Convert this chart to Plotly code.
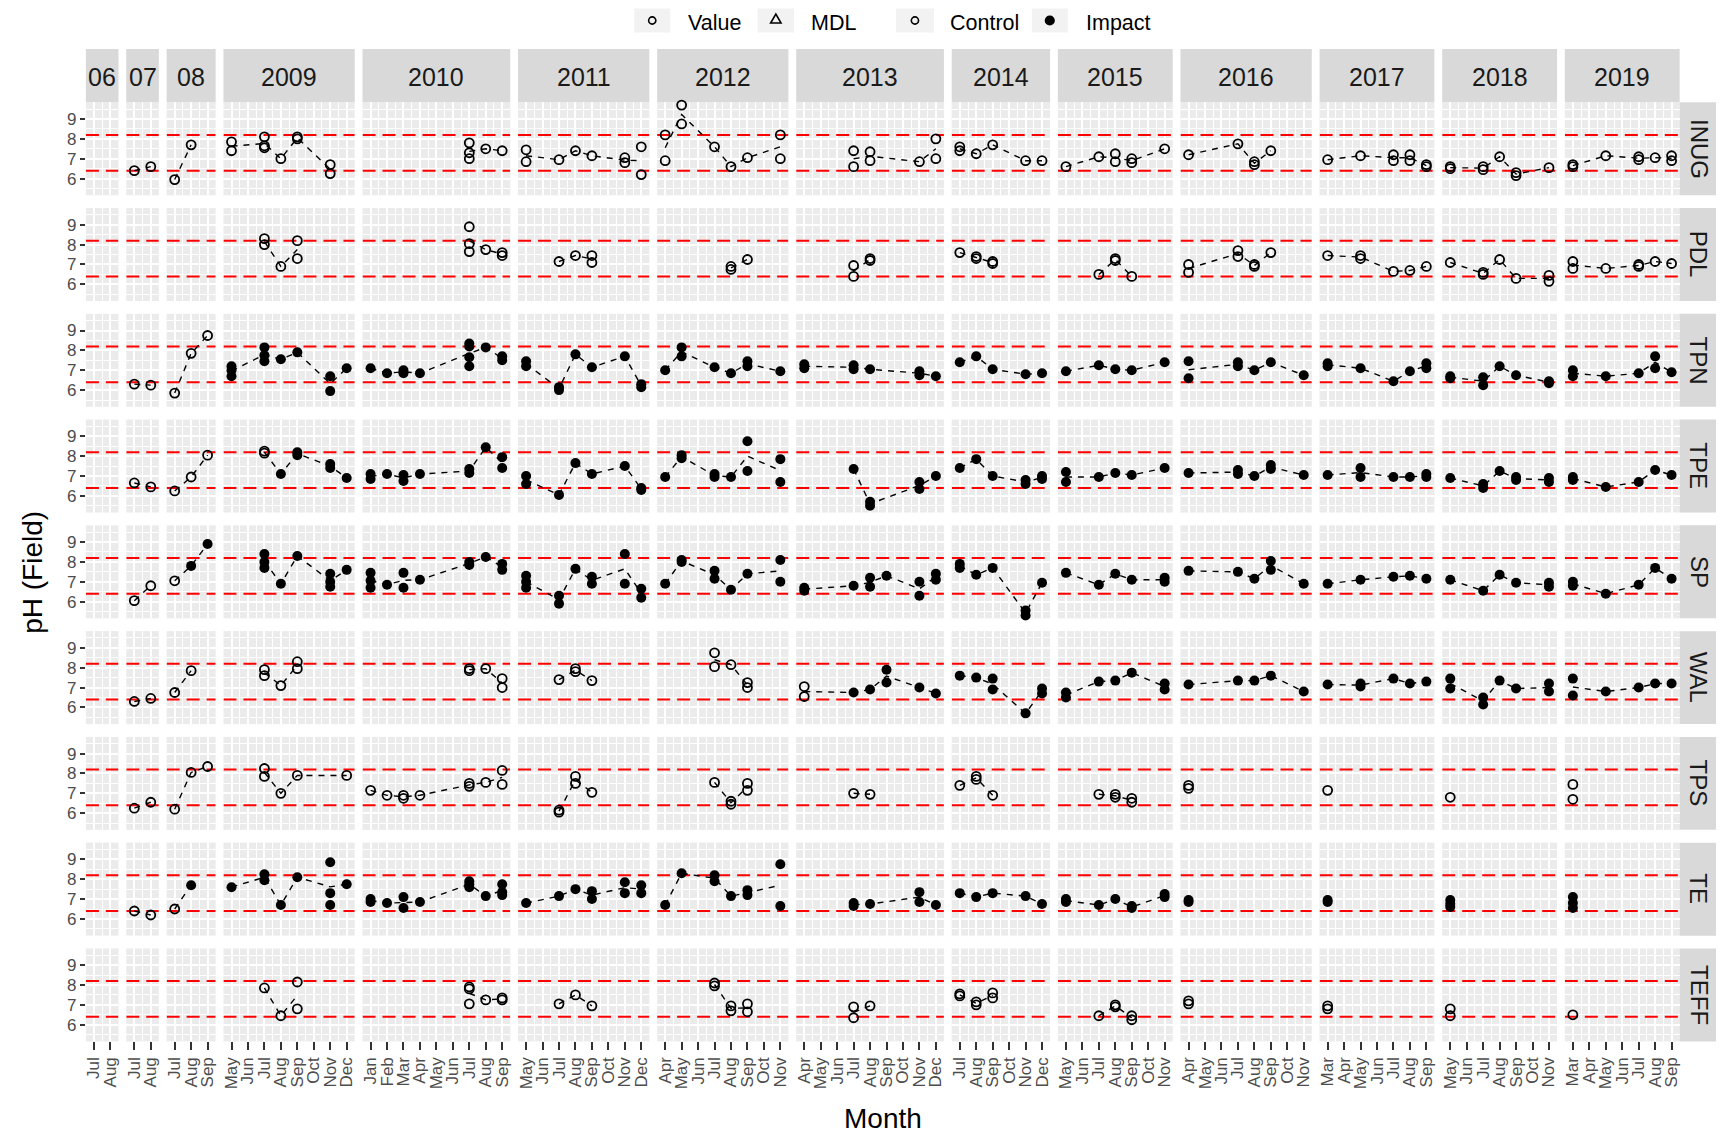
import plotly.graph_objects as go

# ---------------------------------------------------------------------------
# Facet structure: one column per sampling season, one row per station
# ---------------------------------------------------------------------------
STRIP_LABELS = ["06", "07", "08", "2009", "2010", "2011", "2012", "2013",
                "2014", "2015", "2016", "2017", "2018", "2019"]
PANEL_YEARS = [2006, 2007, 2008, 2009, 2010, 2011, 2012, 2013,
               2014, 2015, 2016, 2017, 2018, 2019]
FIRST_MONTH = [7, 7, 7, 5, 1, 5, 4, 4, 7, 5, 4, 3, 5, 3]
LAST_MONTH = [8, 8, 9, 12, 9, 12, 11, 12, 12, 11, 11, 9, 11, 9]
MONTH_ABBR = ["Jan", "Feb", "Mar", "Apr", "May", "Jun",
              "Jul", "Aug", "Sep", "Oct", "Nov", "Dec"]

SITES = ["INUG", "PDL", "TPN", "TPE", "SP", "WAL", "TPS", "TE", "TEFF"]
# first sampling month at which a station is classed as "Impact" ("" = always Control)
IMPACT_FROM = ["", "", "2009-05", "2009-08", "2008-08", "2013-07", "", "2008-08", ""]

PH_LOWER, PH_UPPER = 6.4, 8.2
Y_RANGE = [5.16, 9.84]
LEGEND_LABELS = ["Value", "MDL", "Control", "Impact"]

# field pH readings: (sampling month, [replicate values])
INUG = [
    ("2007-07", [6.4]), ("2007-08", [6.6]),
    ("2008-07", [5.95]), ("2008-08", [7.7]),
    ("2009-05", [7.85, 7.4]), ("2009-07", [8.1, 7.65, 7.55]), ("2009-08", [7.0]),
    ("2009-09", [8.1, 8.0]), ("2009-11", [6.7, 6.25]),
    ("2010-07", [7.8, 7.3, 7.0]), ("2010-08", [7.5]), ("2010-09", [7.4]),
    ("2011-05", [7.45, 6.85]), ("2011-07", [6.95]), ("2011-08", [7.4]), ("2011-09", [7.15]),
    ("2011-11", [7.05, 6.8]), ("2011-12", [7.6, 6.2]),
    ("2012-04", [8.2, 6.9]), ("2012-05", [9.7, 8.75]), ("2012-07", [7.6]), ("2012-08", [6.6]),
    ("2012-09", [7.05]), ("2012-11", [8.2, 7.0]),
    ("2013-07", [7.4, 6.6]), ("2013-08", [7.35, 6.9]), ("2013-11", [6.85]), ("2013-12", [8.0, 7.0]),
    ("2014-07", [7.6, 7.4]), ("2014-08", [7.25]), ("2014-09", [7.7]), ("2014-11", [6.9]), ("2014-12", [6.9]),
    ("2015-05", [6.6]), ("2015-07", [7.1]), ("2015-08", [7.25, 6.85]), ("2015-09", [7.0, 6.8]), ("2015-11", [7.5]),
    ("2016-04", [7.2]), ("2016-07", [7.75]), ("2016-08", [6.85, 6.7]), ("2016-09", [7.4]),
    ("2017-03", [6.95]), ("2017-05", [7.15]), ("2017-07", [7.2, 6.9]), ("2017-08", [7.2, 6.9]), ("2017-09", [6.7, 6.6]),
    ("2018-05", [6.6, 6.5]), ("2018-07", [6.6, 6.45]), ("2018-08", [7.1]), ("2018-09", [6.3, 6.15]), ("2018-11", [6.55]),
    ("2019-03", [6.7, 6.6]), ("2019-05", [7.15]), ("2019-07", [7.1, 6.95]), ("2019-08", [7.05]), ("2019-09", [7.15, 6.9]),
]
PDL = [
    ("2009-07", [8.3, 8.0]), ("2009-08", [6.9]), ("2009-09", [8.2, 7.3]),
    ("2010-07", [8.9, 8.05, 7.65]), ("2010-08", [7.75]), ("2010-09", [7.6, 7.45]),
    ("2011-07", [7.15]), ("2011-08", [7.45]), ("2011-09", [7.45, 7.1]),
    ("2012-08", [6.9, 6.75]), ("2012-09", [7.25]),
    ("2013-07", [6.95, 6.4]), ("2013-08", [7.3, 7.2]),
    ("2014-07", [7.6]), ("2014-08", [7.4, 7.3]), ("2014-09", [7.15, 7.05]),
    ("2015-07", [6.5]), ("2015-08", [7.3, 7.2]), ("2015-09", [6.4]),
    ("2016-04", [7.0, 6.6]), ("2016-07", [7.7, 7.4]), ("2016-08", [7.0, 6.9]), ("2016-09", [7.6]),
    ("2017-03", [7.45]), ("2017-05", [7.45, 7.3]), ("2017-07", [6.65]), ("2017-08", [6.7]), ("2017-09", [6.9]),
    ("2018-05", [7.1]), ("2018-07", [6.6, 6.5]), ("2018-08", [7.25]), ("2018-09", [6.3]), ("2018-11", [6.45, 6.15]),
    ("2019-03", [7.15, 6.8]), ("2019-05", [6.8]), ("2019-07", [7.0, 6.9]), ("2019-08", [7.15]), ("2019-09", [7.05]),
]
TPN = [
    ("2007-07", [6.3]), ("2007-08", [6.25]),
    ("2008-07", [5.85]), ("2008-08", [7.85]), ("2008-09", [8.75]),
    ("2009-05", [7.2, 7.0, 6.7]), ("2009-07", [8.15, 7.75, 7.45]), ("2009-08", [7.55]), ("2009-09", [7.9]),
    ("2009-11", [6.7, 5.95]), ("2009-12", [7.1]),
    ("2010-01", [7.1]), ("2010-02", [6.85]), ("2010-03", [7.0, 6.85]), ("2010-04", [6.85]),
    ("2010-07", [8.35, 8.2, 7.65, 7.2]), ("2010-08", [8.15]), ("2010-09", [7.7, 7.5]),
    ("2011-05", [7.45, 7.2]), ("2011-07", [6.15, 6.0]), ("2011-08", [7.8]), ("2011-09", [7.15]),
    ("2011-11", [7.7]), ("2011-12", [6.3, 6.15]),
    ("2012-04", [7.0]), ("2012-05", [8.15, 7.7]), ("2012-07", [7.15]), ("2012-08", [6.85]),
    ("2012-09", [7.45, 7.2]), ("2012-11", [6.95]),
    ("2013-04", [7.3, 7.1]), ("2013-07", [7.25, 7.05]), ("2013-08", [7.05]), ("2013-11", [6.95, 6.75]), ("2013-12", [6.7]),
    ("2014-07", [7.4]), ("2014-08", [7.7]), ("2014-09", [7.05]), ("2014-11", [6.8]), ("2014-12", [6.85]),
    ("2015-05", [6.95]), ("2015-07", [7.25]), ("2015-08", [7.05]), ("2015-09", [7.0]), ("2015-11", [7.4]),
    ("2016-04", [7.45, 6.6]), ("2016-07", [7.4, 7.2]), ("2016-08", [7.0]), ("2016-09", [7.4]), ("2016-11", [6.75]),
    ("2017-03", [7.35, 7.2]), ("2017-05", [7.1]), ("2017-07", [6.45]), ("2017-08", [6.95]), ("2017-09", [7.35, 7.1]),
    ("2018-05", [6.7, 6.6]), ("2018-07", [6.65, 6.25]), ("2018-08", [7.2]), ("2018-09", [6.75]), ("2018-11", [6.45, 6.35]),
    ("2019-03", [7.0, 6.7]), ("2019-05", [6.7]), ("2019-07", [6.85]), ("2019-08", [7.7, 7.1]), ("2019-09", [6.9]),
]
TPE = [
    ("2007-07", [6.65]), ("2007-08", [6.45]),
    ("2008-07", [6.25]), ("2008-08", [6.95]), ("2008-09", [8.05]),
    ("2009-07", [8.25, 8.15]), ("2009-08", [7.1]), ("2009-09", [8.2, 8.05]), ("2009-11", [7.6, 7.4]), ("2009-12", [6.9]),
    ("2010-01", [7.1, 6.85]), ("2010-02", [7.1]), ("2010-03", [7.05, 6.75]), ("2010-04", [7.1]),
    ("2010-07", [7.35, 7.15]), ("2010-08", [8.45]), ("2010-09", [7.95, 7.4]),
    ("2011-05", [7.0, 6.6]), ("2011-07", [6.05]), ("2011-08", [7.65]), ("2011-09", [7.1]),
    ("2011-11", [7.5]), ("2011-12", [6.4, 6.3]),
    ("2012-04", [6.95]), ("2012-05", [8.05, 7.9]), ("2012-07", [7.1, 6.95]), ("2012-08", [6.95]),
    ("2012-09", [8.75, 7.25]), ("2012-11", [7.85, 6.7]),
    ("2013-07", [7.35]), ("2013-08", [5.7, 5.5]), ("2013-11", [6.7, 6.35]), ("2013-12", [7.0]),
    ("2014-07", [7.4]), ("2014-08", [7.85]), ("2014-09", [7.0]), ("2014-11", [6.8, 6.6]), ("2014-12", [7.0, 6.85]),
    ("2015-05", [7.2, 6.7]), ("2015-07", [6.95]), ("2015-08", [7.15]), ("2015-09", [7.05]), ("2015-11", [7.4]),
    ("2016-04", [7.15]), ("2016-07", [7.3, 7.1]), ("2016-08", [7.0]), ("2016-09", [7.55, 7.35]), ("2016-11", [7.05]),
    ("2017-03", [7.05]), ("2017-05", [7.4, 6.95]), ("2017-07", [6.95]), ("2017-08", [6.95]), ("2017-09", [7.1, 6.95]),
    ("2018-05", [6.9]), ("2018-07", [6.6, 6.4]), ("2018-08", [7.25]), ("2018-09", [6.95, 6.8]), ("2018-11", [6.9, 6.7]),
    ("2019-03", [6.95, 6.8]), ("2019-05", [6.45]), ("2019-07", [6.7]), ("2019-08", [7.3]), ("2019-09", [7.05]),
]
SP = [
    ("2007-07", [6.05]), ("2007-08", [6.8]),
    ("2008-07", [7.05]), ("2008-08", [7.8]), ("2008-09", [8.9]),
    ("2009-07", [8.4, 8.0, 7.7]), ("2009-08", [6.9]), ("2009-09", [8.3]), ("2009-11", [7.4, 7.0, 6.75]), ("2009-12", [7.6]),
    ("2010-01", [7.45, 7.05, 6.7]), ("2010-02", [6.85]), ("2010-03", [7.45, 6.7]), ("2010-04", [7.1]),
    ("2010-07", [8.0, 7.85]), ("2010-08", [8.25]), ("2010-09", [7.9, 7.6]),
    ("2011-05", [7.3, 7.0, 6.7]), ("2011-07", [6.3, 5.9]), ("2011-08", [7.65]), ("2011-09", [7.25, 6.9]),
    ("2011-11", [8.4, 6.9]), ("2011-12", [6.65, 6.2]),
    ("2012-04", [6.9]), ("2012-05", [8.1, 8.0]), ("2012-07", [7.55, 7.15]), ("2012-08", [6.6]),
    ("2012-09", [7.4]), ("2012-11", [8.1, 7.0]),
    ("2013-04", [6.7, 6.55]), ("2013-07", [6.8]), ("2013-08", [7.2, 6.75]), ("2013-09", [7.3]),
    ("2013-11", [7.0, 6.3]), ("2013-12", [7.4, 7.1]),
    ("2014-07", [7.9, 7.7]), ("2014-08", [7.35]), ("2014-09", [7.7]), ("2014-11", [5.55, 5.3]), ("2014-12", [6.95]),
    ("2015-05", [7.45]), ("2015-07", [6.85]), ("2015-08", [7.4]), ("2015-09", [7.1]), ("2015-11", [7.2, 7.0]),
    ("2016-04", [7.55]), ("2016-07", [7.5]), ("2016-08", [7.15]), ("2016-09", [8.05, 7.6]), ("2016-11", [6.9]),
    ("2017-03", [6.9]), ("2017-05", [7.1]), ("2017-07", [7.25]), ("2017-08", [7.3]), ("2017-09", [7.15]),
    ("2018-05", [7.1]), ("2018-07", [6.55]), ("2018-08", [7.35]), ("2018-09", [6.95]), ("2018-11", [6.95, 6.75]),
    ("2019-03", [7.0, 6.8]), ("2019-05", [6.4]), ("2019-07", [6.85]), ("2019-08", [7.7]), ("2019-09", [7.15]),
]
WAL = [
    ("2007-07", [6.3]), ("2007-08", [6.45]),
    ("2008-07", [6.75]), ("2008-08", [7.85]),
    ("2009-07", [7.9, 7.6]), ("2009-08", [7.1]), ("2009-09", [8.3, 7.95]),
    ("2010-07", [7.95, 7.85]), ("2010-08", [7.95]), ("2010-09", [7.45, 7.0]),
    ("2011-07", [7.4]), ("2011-08", [7.95, 7.8]), ("2011-09", [7.35]),
    ("2012-07", [8.75, 8.05]), ("2012-08", [8.15]), ("2012-09", [7.25, 7.0]),
    ("2013-04", [7.05, 6.55]), ("2013-07", [6.75]), ("2013-08", [6.9]), ("2013-09", [7.9, 7.25]),
    ("2013-11", [7.0]), ("2013-12", [6.7]),
    ("2014-07", [7.6]), ("2014-08", [7.5]), ("2014-09", [7.45, 6.9]), ("2014-11", [5.7]), ("2014-12", [6.95, 6.7]),
    ("2015-05", [6.75, 6.5]), ("2015-07", [7.3]), ("2015-08", [7.35]), ("2015-09", [7.75]), ("2015-11", [7.2, 6.9]),
    ("2016-04", [7.15]), ("2016-07", [7.35]), ("2016-08", [7.35]), ("2016-09", [7.6]), ("2016-11", [6.8]),
    ("2017-03", [7.15]), ("2017-05", [7.2, 7.05]), ("2017-07", [7.45]), ("2017-08", [7.2]), ("2017-09", [7.3]),
    ("2018-05", [7.45, 6.95]), ("2018-07", [6.5, 6.15]), ("2018-08", [7.35]), ("2018-09", [6.95]), ("2018-11", [7.2, 6.8]),
    ("2019-03", [7.45, 6.6]), ("2019-05", [6.8]), ("2019-07", [7.0]), ("2019-08", [7.2]), ("2019-09", [7.2]),
]
TPS = [
    ("2007-07", [6.25]), ("2007-08", [6.55]),
    ("2008-07", [6.2]), ("2008-08", [8.05]), ("2008-09", [8.35]),
    ("2009-07", [8.25, 7.85]), ("2009-08", [7.0]), ("2009-09", [7.9]), ("2009-12", [7.9]),
    ("2010-01", [7.15]), ("2010-02", [6.9]), ("2010-03", [6.9, 6.75]), ("2010-04", [6.9]),
    ("2010-07", [7.5, 7.35]), ("2010-08", [7.55]), ("2010-09", [8.15, 7.45]),
    ("2011-07", [6.15, 6.05]), ("2011-08", [7.85, 7.5]), ("2011-09", [7.05]),
    ("2012-07", [7.55]), ("2012-08", [6.6, 6.45]), ("2012-09", [7.5, 7.15]),
    ("2013-07", [7.0]), ("2013-08", [6.95]),
    ("2014-07", [7.4]), ("2014-08", [7.85, 7.7]), ("2014-09", [6.9]),
    ("2015-07", [6.95]), ("2015-08", [6.95, 6.8]), ("2015-09", [6.75, 6.55]),
    ("2016-04", [7.4, 7.25]),
    ("2017-03", [7.15]),
    ("2018-05", [6.8]),
    ("2019-03", [7.45, 6.7]),
]
TE = [
    ("2007-07", [6.4]), ("2007-08", [6.2]),
    ("2008-07", [6.5]), ("2008-08", [7.7]),
    ("2009-05", [7.6]), ("2009-07", [8.25, 7.95]), ("2009-08", [6.7]), ("2009-09", [8.1]),
    ("2009-11", [8.85, 7.3, 6.7]), ("2009-12", [7.75]),
    ("2010-01", [7.0, 6.85]), ("2010-02", [6.8]), ("2010-03", [7.1, 6.55]), ("2010-04", [6.85]),
    ("2010-07", [7.9, 7.75, 7.6]), ("2010-08", [7.15]), ("2010-09", [7.75, 7.35, 7.2]),
    ("2011-05", [6.8]), ("2011-07", [7.15]), ("2011-08", [7.5]), ("2011-09", [7.4, 7.0]),
    ("2011-11", [7.85, 7.3]), ("2011-12", [7.7, 7.3]),
    ("2012-04", [6.7]), ("2012-05", [8.3]), ("2012-07", [8.2, 7.9]), ("2012-08", [7.15]),
    ("2012-09", [7.45, 7.2]), ("2012-11", [8.75, 6.65]),
    ("2013-07", [6.8, 6.65]), ("2013-08", [6.75]), ("2013-11", [7.35, 6.85]), ("2013-12", [6.7]),
    ("2014-07", [7.3]), ("2014-08", [7.1]), ("2014-09", [7.3]), ("2014-11", [7.15]), ("2014-12", [6.75]),
    ("2015-05", [7.0, 6.85]), ("2015-07", [6.7]), ("2015-08", [7.0]), ("2015-09", [6.65, 6.55]), ("2015-11", [7.25, 7.1]),
    ("2016-04", [6.95, 6.85]),
    ("2017-03", [6.95, 6.85]),
    ("2018-05", [6.95, 6.75, 6.6]),
    ("2019-03", [7.1, 6.8, 6.55]),
]
TEFF = [
    ("2009-07", [7.85]), ("2009-08", [6.45]), ("2009-09", [8.15, 6.8]),
    ("2010-07", [7.9, 7.8, 7.05]), ("2010-08", [7.25]), ("2010-09", [7.35, 7.25]),
    ("2011-07", [7.05]), ("2011-08", [7.5]), ("2011-09", [6.95]),
    ("2012-07", [8.1, 7.95]), ("2012-08", [6.95, 6.7]), ("2012-09", [7.05, 6.65]),
    ("2013-07", [6.9, 6.35]), ("2013-08", [6.95]),
    ("2014-07", [7.55, 7.45]), ("2014-08", [7.15, 7.0]), ("2014-09", [7.6, 7.35]),
    ("2015-07", [6.45]), ("2015-08", [7.0, 6.9]), ("2015-09", [6.45, 6.25]),
    ("2016-04", [7.2, 7.05]),
    ("2017-03", [6.95, 6.8]),
    ("2018-05", [6.8, 6.45]),
    ("2019-03", [6.5]),
]
SITE_DATA = [INUG, PDL, TPN, TPE, SP, WAL, TPS, TE, TEFF]

# ---------------------------------------------------------------------------
# Page geometry (pixels)
# ---------------------------------------------------------------------------
W, H = 1720, 1133
FONT = "Liberation Sans, Arial, Helvetica, sans-serif"
PLOT_L, PLOT_R = 85.0, 1680.6
PLOT_T, PLOT_B = 102.3, 1041.4
GAP_X, GAP_Y = 7.8, 12.8
X_PAD = 0.49            # months of padding either side of a season
STRIP_TOP = 49.0
STRIP_RIGHT = 1717.0
PANEL_BG = "#EBEBEB"
STRIP_BG = "#D9D9D9"

n_rows, n_cols = len(SITES), len(PANEL_YEARS)
col_spans = [LAST_MONTH[c] - FIRST_MONTH[c] + 2 * X_PAD for c in range(n_cols)]
px_per_month = (PLOT_R - PLOT_L - GAP_X * (n_cols - 1)) / sum(col_spans)
col_px = []
xpos = PLOT_L
for span in col_spans:
    col_px.append((xpos, xpos + span * px_per_month))
    xpos += span * px_per_month + GAP_X
row_h = (PLOT_B - PLOT_T - GAP_Y * (n_rows - 1)) / n_rows
row_px = [(PLOT_T + r * (row_h + GAP_Y), PLOT_T + r * (row_h + GAP_Y) + row_h) for r in range(n_rows)]


def px_x(v):
    return v / W


def px_y(v):
    return 1 - v / H


def label(text, x, y, size, color="black", angle=0, xanchor="center"):
    return dict(text=text, xref="paper", yref="paper", showarrow=False,
                x=px_x(x), y=px_y(y), xanchor=xanchor, yanchor="middle",
                textangle=angle, borderpad=0,
                font=dict(family=FONT, size=size, color=color))


fig = go.Figure()
axes_layout = {}

for r, site in enumerate(SITES):
    # group readings by season column
    by_col = {c: [] for c in range(n_cols)}
    for key, vals in SITE_DATA[r]:
        year, month = int(key[:4]), int(key[5:])
        by_col[PANEL_YEARS.index(year)].append((key, month, vals))

    for c in range(n_cols):
        n = r * n_cols + c + 1
        sfx = "" if n == 1 else str(n)
        xa, ya = "x" + sfx, "y" + sfx
        bottom = r == n_rows - 1
        months = list(range(FIRST_MONTH[c], LAST_MONTH[c] + 1))
        x_lo, x_hi = FIRST_MONTH[c] - X_PAD, LAST_MONTH[c] + X_PAD

        axes_layout["xaxis" + sfx] = dict(
            domain=[px_x(col_px[c][0]), px_x(col_px[c][1])], anchor=ya,
            range=[x_lo, x_hi], tickmode="array", tickvals=months,
            ticktext=[MONTH_ABBR[m - 1] for m in months],
            showticklabels=bottom, ticks="outside" if bottom else "",
            ticklen=8, tickwidth=1.6, tickcolor="#333333", tickangle=-90,
            tickfont=dict(family=FONT, size=17, color="#4D4D4D"),
            showgrid=True, gridcolor="white", gridwidth=2,
            minor=dict(tickmode="linear", tick0=0.5, dtick=1, showgrid=True,
                       gridcolor="white", gridwidth=1),
            zeroline=False, showline=False, fixedrange=True)
        axes_layout["yaxis" + sfx] = dict(
            domain=[px_y(row_px[r][1]), px_y(row_px[r][0])], anchor=xa,
            range=Y_RANGE, tickmode="linear", tick0=0, dtick=1,
            showticklabels=c == 0, ticks="outside" if c == 0 else "",
            ticklen=5, tickwidth=1.6, tickcolor="#333333",
            tickfont=dict(family=FONT, size=17, color="#4D4D4D"),
            showgrid=True, gridcolor="white", gridwidth=2,
            minor=dict(tickmode="linear", tick0=0.5, dtick=1, showgrid=True,
                       gridcolor="white", gridwidth=1),
            zeroline=False, showline=False, fixedrange=True)

        # guideline limits
        fig.add_trace(go.Scatter(
            x=[x_lo, x_hi, None, x_lo, x_hi],
            y=[PH_UPPER, PH_UPPER, None, PH_LOWER, PH_LOWER],
            mode="lines", line=dict(color="#FF0000", width=2, dash="13px,7px"),
            xaxis=xa, yaxis=ya, hoverinfo="skip", showlegend=False))

        entries = sorted(by_col[c], key=lambda e: e[1])
        if not entries:
            continue

        # monthly mean trend
        if len(entries) > 1:
            fig.add_trace(go.Scatter(
                x=[e[1] for e in entries],
                y=[sum(e[2]) / len(e[2]) for e in entries],
                mode="lines", line=dict(color="black", width=1.4, dash="6px,6px"),
                xaxis=xa, yaxis=ya, hoverinfo="skip", showlegend=False))

        ctrl_x, ctrl_y, imp_x, imp_y = [], [], [], []
        for key, month, vals in entries:
            impact = IMPACT_FROM[r] != "" and key >= IMPACT_FROM[r]
            for v in vals:
                if impact:
                    imp_x.append(month)
                    imp_y.append(v)
                else:
                    ctrl_x.append(month)
                    ctrl_y.append(v)
        if ctrl_x:
            fig.add_trace(go.Scatter(
                x=ctrl_x, y=ctrl_y, mode="markers",
                marker=dict(symbol="circle-open", size=9, color="black",
                            line=dict(width=1.8, color="black")),
                xaxis=xa, yaxis=ya, name="Control", showlegend=False, cliponaxis=False))
        if imp_x:
            fig.add_trace(go.Scatter(
                x=imp_x, y=imp_y, mode="markers",
                marker=dict(symbol="circle", size=10, color="black"),
                xaxis=xa, yaxis=ya, name="Impact", showlegend=False, cliponaxis=False))

shapes, annotations = [], []

# facet strips along the top
for c, text in enumerate(STRIP_LABELS):
    shapes.append(dict(type="rect", xref="paper", yref="paper", layer="below",
                       x0=px_x(col_px[c][0]), x1=px_x(col_px[c][1]),
                       y0=px_y(PLOT_T), y1=px_y(STRIP_TOP),
                       fillcolor=STRIP_BG, line=dict(width=0)))
    annotations.append(label(text, (col_px[c][0] + col_px[c][1]) / 2,
                             (STRIP_TOP + PLOT_T) / 2 + 1, 25, "#1A1A1A"))

# facet strips on the right
for r, site in enumerate(SITES):
    shapes.append(dict(type="rect", xref="paper", yref="paper", layer="below",
                       x0=px_x(PLOT_R), x1=px_x(STRIP_RIGHT),
                       y0=px_y(row_px[r][1]), y1=px_y(row_px[r][0]),
                       fillcolor=STRIP_BG, line=dict(width=0)))
    annotations.append(label(site, (PLOT_R + STRIP_RIGHT) / 2 + 1,
                             (row_px[r][0] + row_px[r][1]) / 2, 24, "#1A1A1A", angle=90))

# axis titles
annotations.append(label("pH (Field)", 32, (PLOT_T + PLOT_B) / 2, 28, angle=-90))
annotations.append(label("Month", (PLOT_L + PLOT_R) / 2, 1118, 28))

# legend along the top: key boxes, symbols and labels
key_boxes = [(634, 670), (757.5, 794), (896, 934), (1032, 1068)]
label_x = [687, 810, 949, 1085]
key_top, key_bottom = 8.5, 32.5
key_cy = 20.5
for (kx0, kx1), lx, text in zip(key_boxes, label_x, LEGEND_LABELS):
    shapes.append(dict(type="rect", xref="paper", yref="paper",
                       x0=px_x(kx0), x1=px_x(kx1), y0=px_y(key_bottom), y1=px_y(key_top),
                       fillcolor="#F2F2F2", line=dict(width=0)))
    annotations.append(label(text, lx, 23, 21.5, xanchor="left"))


def key_circle(cx, cy, rad, filled):
    return dict(type="circle", xref="paper", yref="paper",
                x0=px_x(cx - rad), x1=px_x(cx + rad), y0=px_y(cy + rad), y1=px_y(cy - rad),
                fillcolor="black" if filled else "rgba(0,0,0,0)",
                line=dict(color="black", width=1.6))


shapes.append(key_circle((key_boxes[0][0] + key_boxes[0][1]) / 2, key_cy, 3.6, False))
tx = (key_boxes[1][0] + key_boxes[1][1]) / 2
shapes.append(dict(type="path", xref="paper", yref="paper",
                   path="M {:.5f},{:.5f} L {:.5f},{:.5f} L {:.5f},{:.5f} Z".format(
                       px_x(tx - 5.2), px_y(23), px_x(tx + 5.2), px_y(23), px_x(tx), px_y(14)),
                   line=dict(color="black", width=1.6)))
shapes.append(key_circle((key_boxes[2][0] + key_boxes[2][1]) / 2, key_cy, 3.6, False))
shapes.append(key_circle((key_boxes[3][0] + key_boxes[3][1]) / 2, key_cy, 4.3, True))

fig.update_layout(
    width=W, height=H, autosize=False,
    margin=dict(l=0, r=0, t=0, b=0, pad=0),
    paper_bgcolor="white", plot_bgcolor=PANEL_BG,
    showlegend=False,
    font=dict(family=FONT, color="black"),
    shapes=shapes, annotations=annotations,
    **axes_layout)

fig.write_html("out.html")
